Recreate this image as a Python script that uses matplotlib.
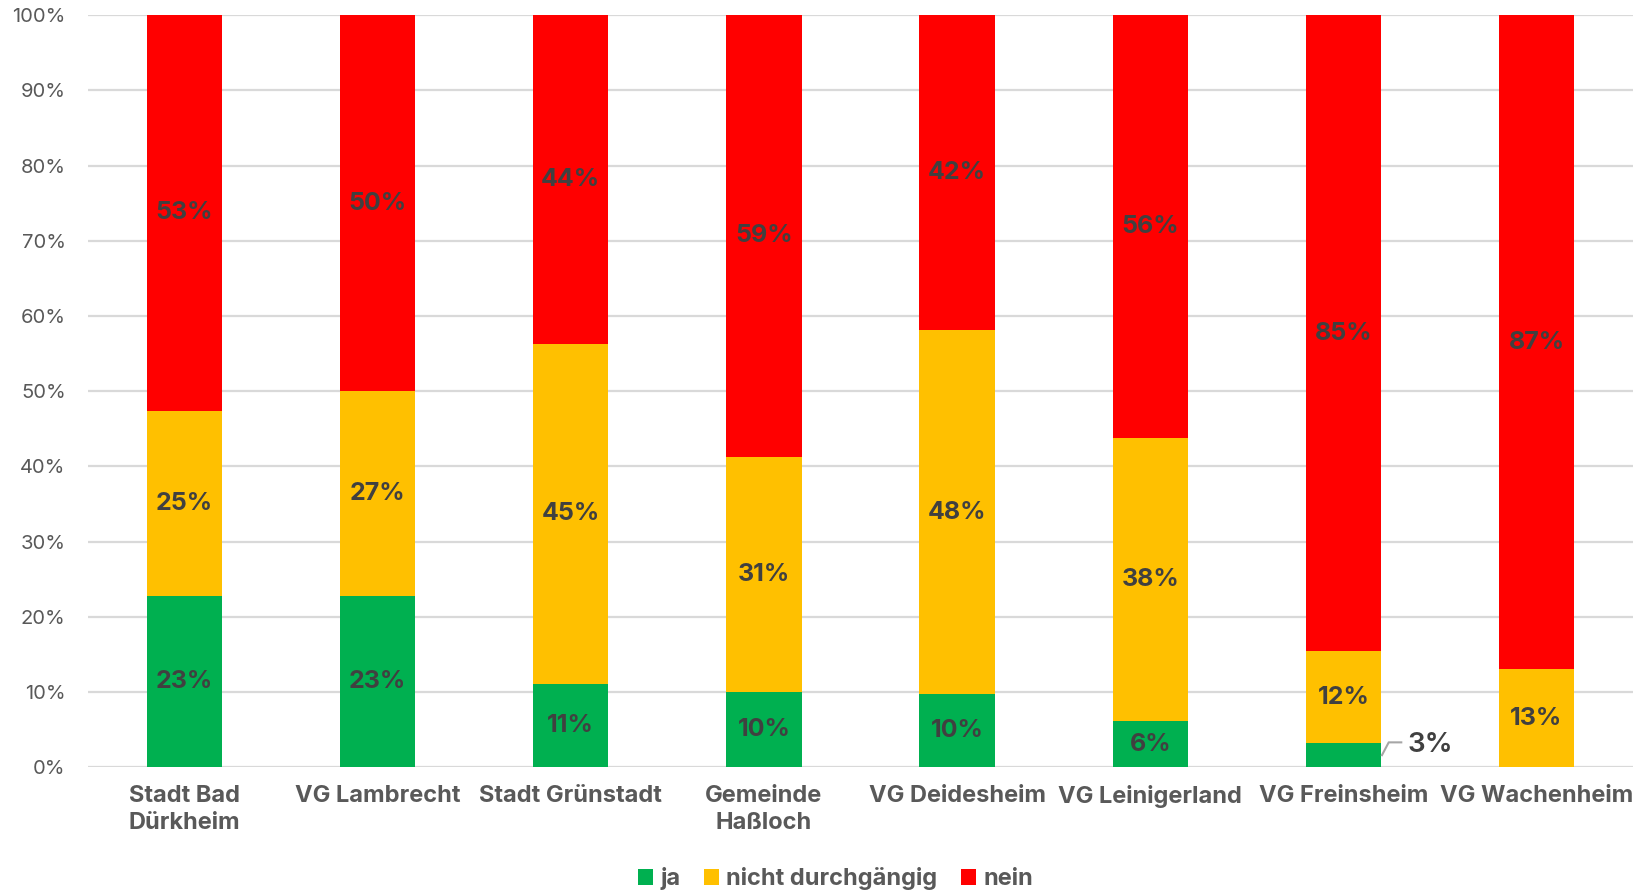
import matplotlib.pyplot as plt
import numpy as np

plt.rcParams['font.family'] = ['Inter', 'DejaVu Sans']

kommunen = ['Stadt Bad\nDürkheim', 'VG Lambrecht', 'Stadt Grünstadt', 'Gemeinde\nHaßloch',
            'VG Deidesheim', 'VG Leinigerland', 'VG Freinsheim', 'VG Wachenheim']
ja = [22.8, 22.7, 11.1, 10.0, 9.7, 6.1, 3.2, 0.0]
nicht_durchgaengig = [24.6, 27.3, 45.2, 31.3, 48.4, 37.7, 12.2, 13.0]
nein = [52.6, 50.0, 43.7, 58.7, 41.9, 56.2, 84.6, 87.0]

serien = [('ja', ja, '#00B050'),
          ('nicht durchgängig', nicht_durchgaengig, '#FFC000'),
          ('nein', nein, '#FF0000')]

fig = plt.figure(figsize=(16.35, 8.9), dpi=100)
ax = fig.add_axes([0.0538, 0.138, 0.9450, 0.845])

breite = 0.39
x = np.arange(len(kommunen))
bottom = np.zeros(len(kommunen))
for name, werte, farbe in serien:
    werte = np.array(werte)
    ax.bar(x, werte, breite, bottom=bottom, color=farbe, label=name, zorder=2)
    for i, v in enumerate(werte):
        if v <= 0:
            continue
        mitte = bottom[i] + v / 2
        if v < 5:
            # small segment: label outside, with a leader line
            kante = x[i] + breite / 2
            ax.plot([kante + 0.005, kante + 0.04, kante + 0.105],
                    [mitte, mitte + 1.7, mitte + 1.7],
                    color='#A6A6A6', lw=1.5, zorder=3, clip_on=False)
            ax.text(kante + 0.135, mitte + 1.4, f'{v:.0f}%', ha='left', va='center',
                    fontsize=20, fontweight='semibold', color='#404040', zorder=3)
        else:
            ax.text(x[i], mitte, f'{v:.0f}%', ha='center', va='center',
                    fontsize=18, fontweight='bold', color='#404040', zorder=3)
    bottom += werte

ax.set_xlim(-0.5, len(kommunen) - 0.5)
ax.set_ylim(0, 100)
ax.set_yticks(np.arange(0, 101, 10))
ax.set_yticklabels([f'{t}%' for t in range(0, 101, 10)], fontsize=14.5, color='#595959')
ax.set_xticks(x)
ax.set_xticklabels(kommunen, fontsize=17, fontweight='bold', color='#595959',
                   linespacing=1.3, va='top')
ax.tick_params(axis='both', length=0)
ax.tick_params(axis='x', pad=13)
ax.tick_params(axis='y', pad=16)
ax.grid(axis='y', color='#D9D9D9', lw=1.6, zorder=0)
for s in ax.spines.values():
    s.set_visible(False)

leg = fig.legend(loc='lower center', bbox_to_anchor=(0.511, -0.024), ncol=3, frameon=False,
                 fontsize=17, handlelength=0.65, handleheight=0.65, handletextpad=0.3,
                 columnspacing=1.0)
for t in leg.get_texts():
    t.set_color('#595959')
    t.set_fontweight('bold')

fig.savefig('out.png', dpi=100)
